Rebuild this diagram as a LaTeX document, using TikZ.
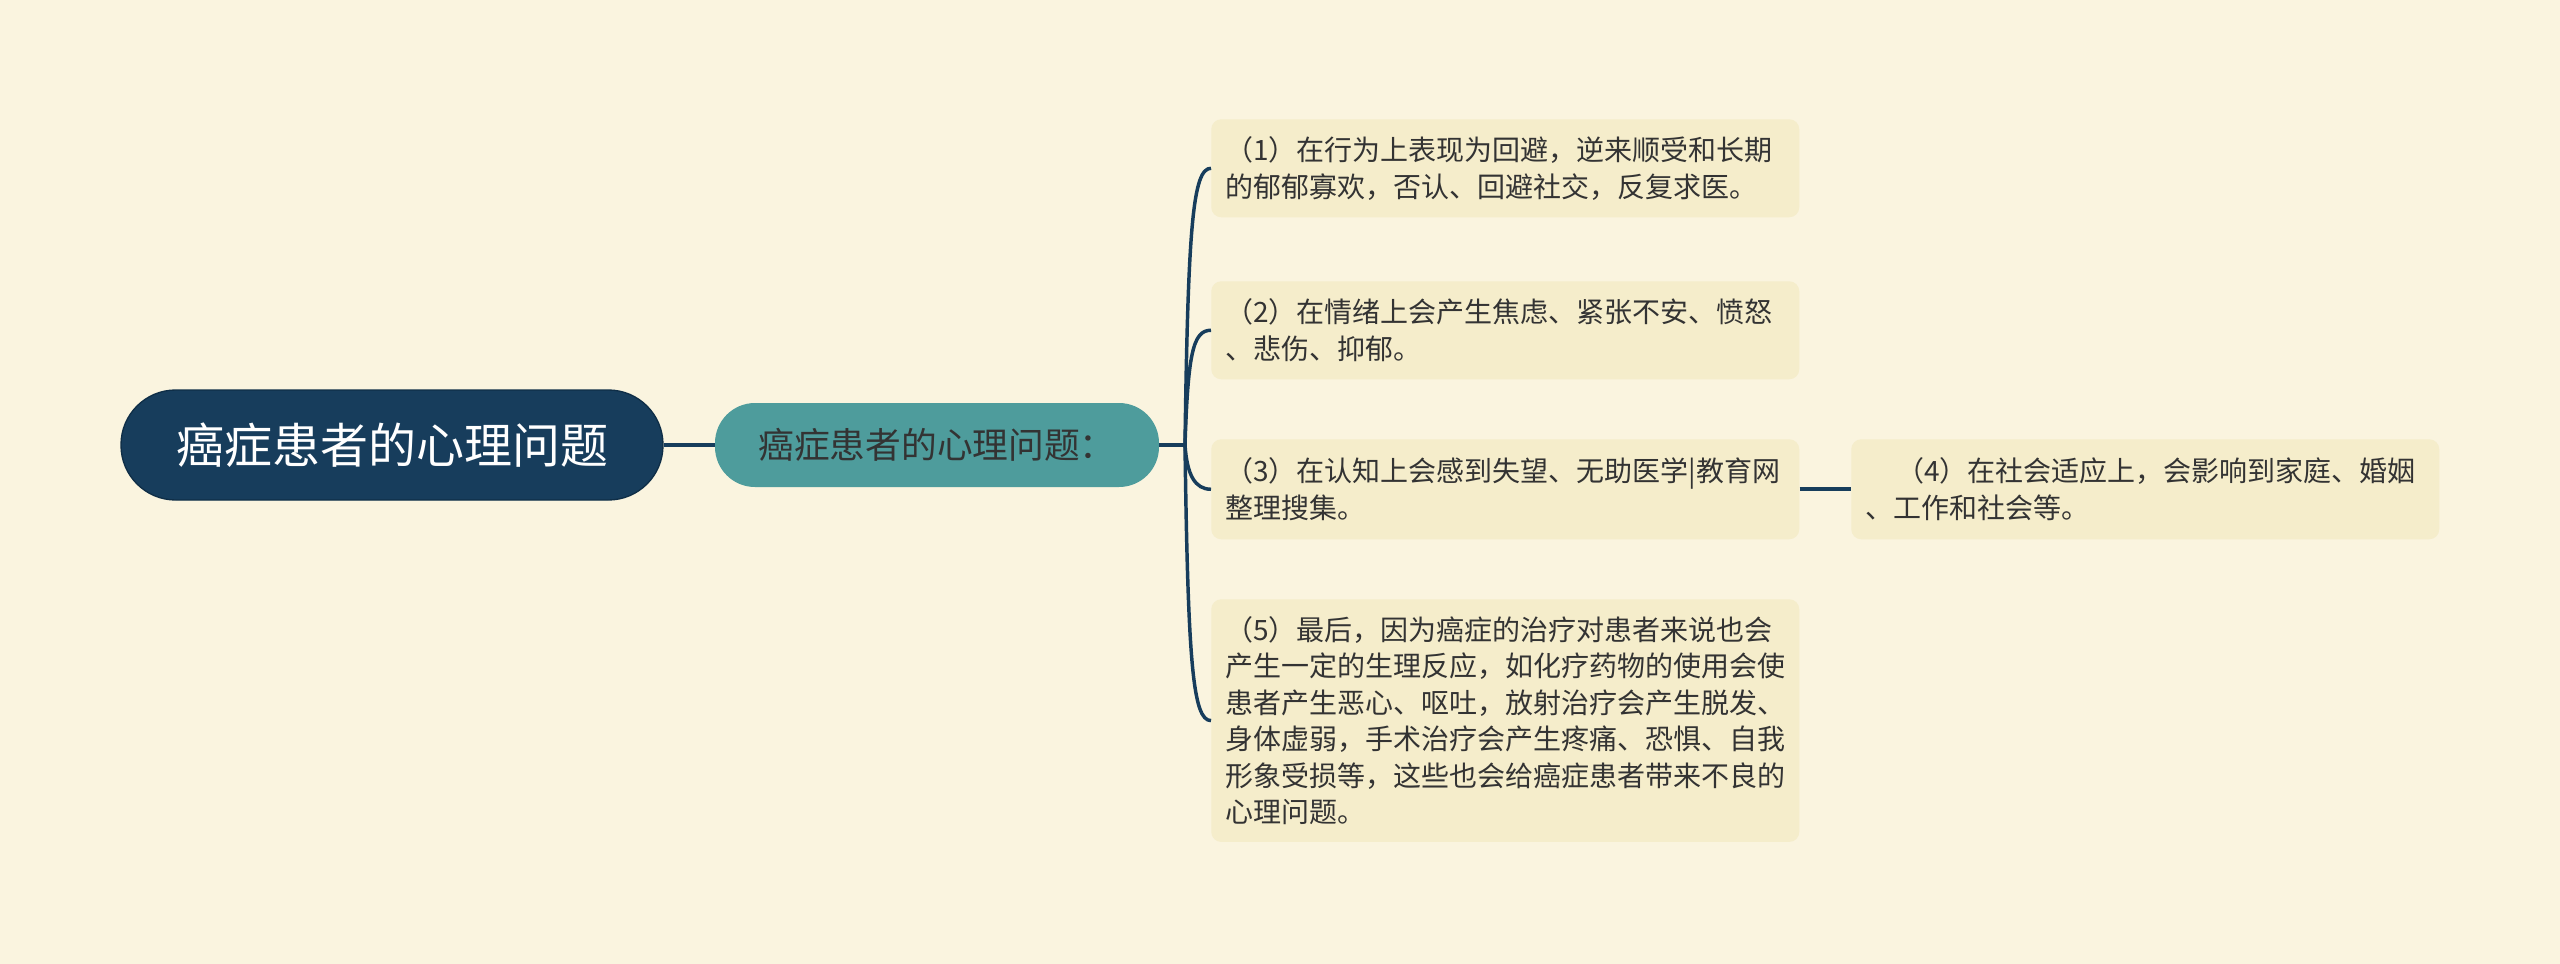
\documentclass[tikz,border=0pt]{standalone}
\usepackage{fontspec}
\setmainfont{Noto Sans CJK SC}
\usetikzlibrary{calc}
\definecolor{bg}{HTML}{FAF4DF}
\definecolor{navy}{HTML}{173D5C}
\definecolor{navyedge}{HTML}{0F2E47}
\definecolor{tealsub}{HTML}{4E9C9C}
\definecolor{leaf}{HTML}{F5EDCB}
\definecolor{txt}{HTML}{333333}
\begin{document}
\begin{tikzpicture}[x=0.75pt,y=-0.75pt,
  rootbox/.style={fill=navy, draw=navyedge, line width=1pt, rounded corners=41pt,
    minimum width=406.5pt, minimum height=82.5pt, text=white,
    font=\fontsize{36pt}{40pt}\selectfont},
  subbox/.style={fill=tealsub, rounded corners=30pt, minimum width=333pt,
    minimum height=63pt, text=txt, font=\fontsize{26.8pt}{30pt}\selectfont},
  leafbox/.style={anchor=north west, fill=leaf, rounded corners=7.5pt,
    minimum width=441pt, text width=420pt, inner xsep=10.5pt, inner ysep=0pt,
    align=left, text=txt, font=\fontsize{21pt}{27.4pt}\selectfont},
  conn/.style={draw=navy, line width=2.6pt}]
\fill[bg] (0,0) rectangle (2560,964);
\useasboundingbox (0,0) rectangle (2560,964);

\node[rootbox] (root) at (392,445) {癌症患者的心理问题};
\node[subbox] (sub) at (937,445) {癌症患者的心理问题：};
\coordinate (S) at (1185,445);

\node[leafbox, minimum height=73.5pt] (b1) at (1211,119)
  {（1）在行为上表现为回避，逆来顺受和长期\\的郁郁寡欢，否认、回避社交，反复求医。};
\node[leafbox, minimum height=73.5pt] (b2) at (1211,281)
  {（2）在情绪上会产生焦虑、紧张不安、愤怒\\、悲伤、抑郁。};
\node[leafbox, minimum height=75pt] (b3) at (1211,439)
  {（3）在认知上会感到失望、无助医学|教育网\\整理搜集。};
\node[leafbox, minimum height=75pt] (b4) at (1851,439)
  {\hspace*{1.1em}（4）在社会适应上，会影响到家庭、婚姻\\、工作和社会等。};
\node[leafbox, minimum height=182pt] (b5) at (1211,599)
  {（5）最后，因为癌症的治疗对患者来说也会\\产生一定的生理反应，如化疗药物的使用会使\\患者产生恶心、呕吐，放射治疗会产生脱发、\\身体虚弱，手术治疗会产生疼痛、恐惧、自我\\形象受损等，这些也会给癌症患者带来不良的\\心理问题。};

\draw[conn, line width=3pt] (root.east) -- (sub.west);
\draw[conn] (sub.east) -- (S);
\draw[conn] (S) .. controls +(3,-220) and +(-18,0) .. (b1.west);
\draw[conn] (S) .. controls +(3,-92) and +(-18,0) .. (b2.west);
\draw[conn] (S) .. controls +(2,30) and +(-16,0) .. (b3.west);
\draw[conn] (S) .. controls +(3,220) and +(-18,0) .. (b5.west);
\draw[conn, line width=3pt] (b3.east) -- (b4.west);
\end{tikzpicture}
\end{document}
